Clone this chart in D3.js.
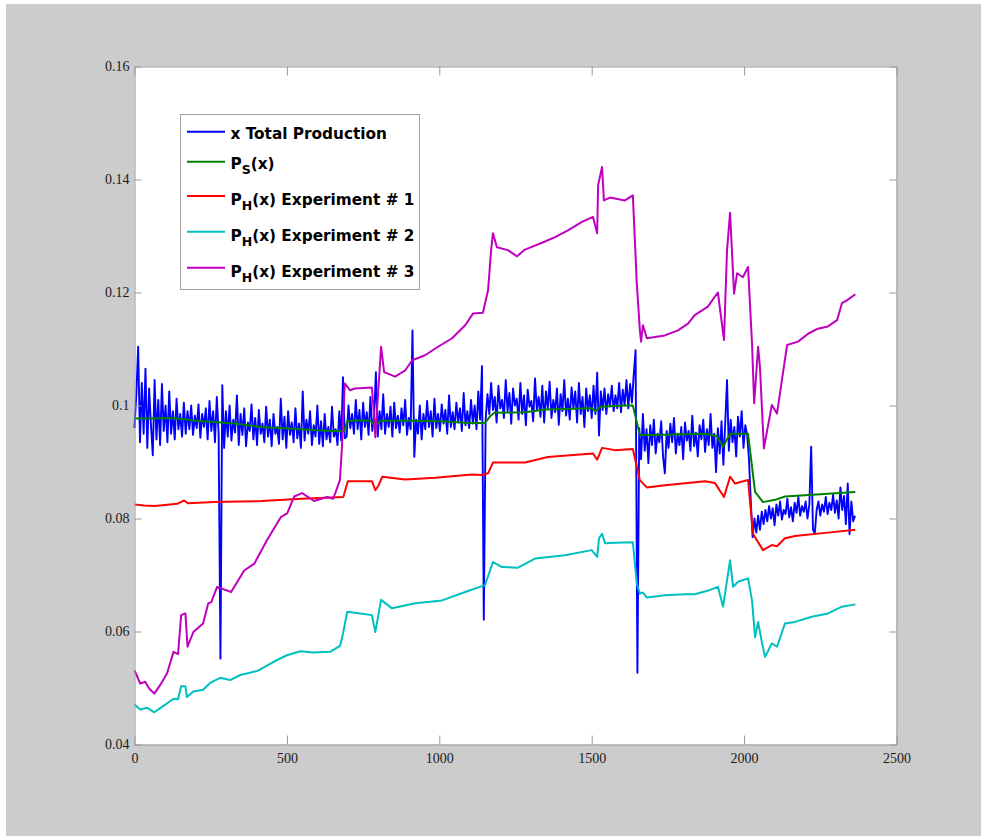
<!DOCTYPE html>
<html>
<head>
<meta charset="utf-8">
<script src="https://cdn.jsdelivr.net/npm/d3@7"></script>
<style>
  body { margin: 0; background: #fff; }
  #chart svg { display: block; }
</style>
</head>
<body>
<div id="chart"></div>
<script>
// x Total Production, one sample every blueStep units
const blueStep = 6
const totalProduction = [
  0.0960, 0.1020, 0.1104, 0.0935, 0.1040, 0.0950, 0.1065, 0.0925, 0.1030, 0.0965,
  0.0912, 0.1045, 0.0940, 0.1010, 0.0930, 0.1038, 0.0955, 0.1000, 0.0935, 0.1025,
  0.0950, 0.0990, 0.0940, 0.1012, 0.0958,
  0.0985, 0.0945, 0.1005, 0.0950, 0.0990, 0.0958, 0.1000, 0.0948, 0.0982, 0.0960,
  0.1002, 0.0943, 0.0985, 0.0962, 0.0995, 0.0940, 0.1008, 0.0955, 0.0990, 0.0935,
  0.1015, 0.0950,
  0.0552, 0.1036,
  0.0925, 0.0990, 0.0945, 0.1000, 0.0938, 0.0975, 0.0952, 0.1018, 0.0930, 0.0985,
  0.0948, 0.0995, 0.0928, 0.0970, 0.0955, 0.1002, 0.0940, 0.0978, 0.0930, 0.0992,
  0.0950, 0.0968, 0.0935, 0.0998, 0.0945, 0.0975, 0.0928, 0.0985, 0.0950, 0.0962,
  0.0932, 0.1012, 0.0940, 0.0980, 0.0925, 0.0990, 0.0948, 0.0970, 0.0935, 0.0995,
  0.0942, 0.0968, 0.0925, 0.1025, 0.0938, 0.0975, 0.0950, 0.0990, 0.0930, 0.0965,
  0.0945, 0.1000, 0.0932, 0.0972, 0.0928, 0.0985, 0.0940, 0.0962, 0.0935, 0.0998,
  0.0945, 0.0958, 0.0930, 0.0990, 0.0938, 0.1050, 0.0942,
  0.0945, 0.1000, 0.0960, 0.0985, 0.0950, 0.1010, 0.0958, 0.0992, 0.0940, 0.1005,
  0.0962, 0.0988, 0.0948, 0.1015, 0.0955, 0.0980,
  0.1059,
  0.0945, 0.0990, 0.0958, 0.1020, 0.0950, 0.0985, 0.0962, 0.0998, 0.0945, 0.1005,
  0.0960, 0.0982, 0.0952, 0.0995, 0.0965, 0.1010, 0.0948, 0.0978, 0.0958,
  0.1133, 0.0909,
  0.0975, 0.0950, 0.1000, 0.0940, 0.0985, 0.0958, 0.1008, 0.0962, 0.0990, 0.0945,
  0.1012, 0.0960, 0.0985, 0.0955, 0.1002, 0.0968, 0.0992, 0.0950, 0.1018, 0.0962,
  0.0988, 0.0958, 0.1005, 0.0970, 0.0995, 0.0955, 0.1022, 0.0965, 0.0990, 0.0960,
  0.1010, 0.0968, 0.1000, 0.0958, 0.1025, 0.0975,
  0.1070, 0.0621,
  0.0975, 0.1020, 0.0985, 0.1040, 0.0992, 0.1015, 0.0970, 0.1035, 0.0995, 0.1010,
  0.0978, 0.1045, 0.0990, 0.1022, 0.0968, 0.1030, 0.1000, 0.1012, 0.0975, 0.1040,
  0.0985, 0.1018, 0.0965, 0.1028, 0.0998, 0.1008, 0.0972, 0.1048, 0.0992, 0.1015,
  0.0980, 0.1035, 0.0970, 0.1025, 0.0995, 0.1042, 0.0978, 0.1010, 0.0988, 0.1030,
  0.0966, 0.1020, 0.0990, 0.1045, 0.0982, 0.1012, 0.0975, 0.1032, 0.0995, 0.1025,
  0.0970, 0.1040, 0.0985, 0.1015, 0.0962, 0.1030, 0.0990, 0.1018, 0.0978, 0.1035,
  0.0985,
  0.1058, 0.0947,
  0.1025, 0.0992, 0.1030, 0.0985, 0.1020, 0.0998, 0.1035, 0.0990, 0.1018, 0.0995,
  0.1040, 0.0988, 0.1028, 0.1000, 0.1045, 0.0995, 0.1038, 0.1005, 0.1055,
  0.1098, 0.0527,
  0.0960, 0.0905, 0.0985, 0.0920, 0.0958, 0.0898, 0.0965, 0.0930, 0.0975, 0.0915,
  0.0950, 0.0935, 0.0972, 0.0910, 0.0880, 0.0955, 0.0925, 0.0968, 0.0935, 0.0978,
  0.0915, 0.0950, 0.0930, 0.0962, 0.0905, 0.0970, 0.0938, 0.0955, 0.0920, 0.0982,
  0.0928, 0.0952, 0.0910, 0.0965, 0.0940, 0.0975, 0.0918, 0.0958, 0.0930, 0.0985,
  0.0925, 0.0950, 0.0882, 0.0960, 0.0915, 0.0972, 0.0895, 0.0968,
  0.1045,
  0.0920, 0.0975, 0.0935, 0.0962, 0.0910, 0.0980, 0.0945, 0.0990, 0.0925, 0.0965,
  0.0948, 0.0905,
  0.0830, 0.0767, 0.0800, 0.0775, 0.0805, 0.0780, 0.0812, 0.0790,
  0.0815, 0.0795, 0.0822, 0.0800, 0.0818, 0.0788, 0.0825, 0.0805, 0.0830, 0.0798,
  0.0815, 0.0808, 0.0835, 0.0802, 0.0820, 0.0795, 0.0828, 0.0810, 0.0838, 0.0805,
  0.0822, 0.0812, 0.0830, 0.0800, 0.0825,
  0.0927, 0.0780, 0.0774,
  0.0815, 0.0830, 0.0805, 0.0825, 0.0812, 0.0838, 0.0808, 0.0828, 0.0815, 0.0842,
  0.0810, 0.0832, 0.0800, 0.0855, 0.0815, 0.0840, 0.0790, 0.0862, 0.0772, 0.0830,
  0.0795, 0.0805
]

// P_S(x)
const psCurve = [
  [0,0.0977],[50,0.0977],[110,0.0978],[160,0.0976],[200,0.0973],[260,0.0971],[330,0.0968],
  [416,0.0962],[480,0.0960],[548,0.0958],[600,0.0956],[646,0.0955],[688,0.0955],[698,0.0972],
  [730,0.0974],[775,0.0973],[790,0.0963],[805,0.0973],[900,0.0973],[1000,0.0972],[1100,0.0969],
  [1150,0.0969],[1165,0.0980],[1180,0.0987],[1280,0.0988],[1350,0.0993],[1500,0.0995],
  [1512,0.0990],[1530,0.0998],[1600,0.1000],[1635,0.1000],[1658,0.0948],[1700,0.0948],
  [1800,0.0949],[1872,0.0950],[1910,0.0946],[1931,0.0927],[1954,0.0950],[2013,0.0950],
  [2036,0.0847],[2062,0.0829],[2102,0.0833],[2134,0.0839],[2250,0.0843],[2365,0.0847]
]

// P_H(x) Experiment # 1
const exp1Curve = [
  [0,0.0825],[30,0.0823],[65,0.0822],[100,0.0824],[140,0.0826],[163,0.0832],[175,0.0827],
  [262,0.0829],[350,0.0830],[416,0.0831],[548,0.0835],[646,0.0837],[685,0.0838],[700,0.0866],
  [779,0.0866],[790,0.0850],[800,0.0858],[813,0.0874],[888,0.0869],[986,0.0872],[1107,0.0878],
  [1140,0.0877],[1160,0.0880],[1176,0.0899],[1281,0.0899],[1356,0.0909],[1504,0.0915],
  [1518,0.0904],[1534,0.0925],[1576,0.0921],[1635,0.0923],[1658,0.0868],[1681,0.0855],
  [1740,0.0859],[1872,0.0866],[1904,0.0863],[1934,0.0838],[1954,0.0874],[1970,0.0862],
  [2013,0.0868],[2029,0.0773],[2062,0.0744],[2091,0.0753],[2108,0.0751],[2134,0.0765],
  [2167,0.0769],[2275,0.0775],[2365,0.0780]
]

// P_H(x) Experiment # 2
const exp2Curve = [
  [0,0.0471],[19,0.0462],[42,0.0465],[65,0.0457],[94,0.0468],[128,0.0481],[143,0.0480],
  [153,0.0503],[167,0.0503],[172,0.0484],[193,0.0494],[225,0.0497],[248,0.0509],[281,0.0518],
  [314,0.0514],[347,0.0523],[402,0.0530],[455,0.0546],[500,0.0558],[544,0.0565],[587,0.0563],
  [642,0.0564],[675,0.0575],[684,0.0596],[698,0.0635],[740,0.0632],[779,0.0629],[790,0.0599],
  [809,0.0656],[845,0.0641],[921,0.0650],[1009,0.0655],[1085,0.0670],[1150,0.0682],
  [1176,0.0723],[1206,0.0714],[1258,0.0713],[1314,0.0729],[1412,0.0735],[1500,0.0744],
  [1518,0.0732],[1524,0.0765],[1534,0.0773],[1544,0.0756],[1576,0.0757],[1635,0.0758],
  [1648,0.0685],[1658,0.0667],[1668,0.0669],[1681,0.0660],[1740,0.0664],[1806,0.0666],
  [1838,0.0666],[1880,0.0672],[1914,0.0679],[1931,0.0644],[1954,0.0726],[1964,0.0679],
  [1980,0.0688],[2013,0.0694],[2026,0.0655],[2036,0.0590],[2046,0.0617],[2059,0.0579],
  [2069,0.0555],[2091,0.0579],[2108,0.0573],[2134,0.0614],[2167,0.0617],[2222,0.0626],
  [2275,0.0632],[2321,0.0644],[2365,0.0648]
]

// P_H(x) Experiment # 3
const exp3Curve = [
  [0,0.0531],[19,0.0508],[35,0.0511],[48,0.0499],[65,0.0490],[84,0.0505],[107,0.0526],
  [128,0.0564],[143,0.0560],[153,0.0629],[167,0.0632],[174,0.0573],[193,0.0599],[225,0.0614],
  [242,0.0650],[252,0.0652],[271,0.0679],[317,0.0670],[360,0.0708],[393,0.0720],[435,0.0762],
  [481,0.0803],[501,0.0809],[524,0.0839],[550,0.0845],[589,0.0831],[632,0.0838],[652,0.0835],
  [674,0.0868],[680,0.0921],[690,0.1039],[707,0.1027],[723,0.1030],[779,0.1032],[786,0.0980],
  [790,0.0944],[809,0.1104],[819,0.1059],[855,0.1051],[888,0.1062],[911,0.1080],[953,0.1089],
  [996,0.1104],[1042,0.1119],[1085,0.1142],[1111,0.1163],[1143,0.1164],[1160,0.1204],
  [1170,0.1275],[1176,0.1305],[1189,0.1280],[1225,0.1275],[1255,0.1264],[1281,0.1276],
  [1337,0.1288],[1380,0.1298],[1422,0.1310],[1468,0.1325],[1504,0.1334],[1518,0.1305],
  [1521,0.1390],[1534,0.1422],[1540,0.1363],[1560,0.1368],[1609,0.1363],[1635,0.1372],
  [1648,0.1216],[1658,0.1133],[1662,0.1113],[1668,0.1142],[1681,0.1119],[1740,0.1124],
  [1783,0.1133],[1816,0.1145],[1838,0.1160],[1881,0.1175],[1914,0.1200],[1934,0.1116],
  [1944,0.1275],[1954,0.1341],[1967,0.1198],[1977,0.1234],[1996,0.1227],[2013,0.1245],
  [2026,0.1110],[2033,0.1004],[2046,0.1104],[2052,0.1068],[2065,0.0924],[2091,0.1001],
  [2108,0.0986],[2141,0.1107],[2177,0.1113],[2210,0.1127],[2242,0.1136],[2275,0.1140],
  [2305,0.1151],[2321,0.1181],[2337,0.1186],[2365,0.1197]
]

const xTicks = [0, 500, 1000, 1500, 2000, 2500]
const yTicks = [0.04, 0.06, 0.08, 0.1, 0.12, 0.14, 0.16]

const legendItems = [
  { main: "x Total Production", sub: "", rest: "", color: "#0000ff" },
  { main: "P", sub: "S", rest: "(x)", color: "#008000" },
  { main: "P", sub: "H", rest: "(x) Experiment # 1", color: "#ff0000" },
  { main: "P", sub: "H", rest: "(x) Experiment # 2", color: "#00bfbf" },
  { main: "P", sub: "H", rest: "(x) Experiment # 3", color: "#bf00bf" }
]

let width = 981
let height = 836
let margin = { top: 66.5, right: 84.5, bottom: 91.5, left: 134.5 }

var svg = d3.select("#chart")
    .append("svg")
    .attr("width", width)
    .attr("height", height)

// figure background
svg.append("rect")
    .attr("x", 6).attr("y", 4)
    .attr("width", width - 6).attr("height", height - 4)
    .attr("fill", "#cccccc")

var x = d3.scaleLinear().domain([0, 2500]).range([margin.left, width - margin.right])
var y = d3.scaleLinear().domain([0.04, 0.16]).range([height - margin.bottom, margin.top])

svg.append("rect")
    .attr("x", x(0)).attr("y", y(0.16))
    .attr("width", x(2500) - x(0)).attr("height", y(0.04) - y(0.16))
    .attr("fill", "#ffffff")

var line = d3.line()
    .x(d => x(d[0]))
    .y(d => y(d[1]))

var plot = svg.append("g")

plot.append("path")
    .datum(totalProduction.map((v, i) => [i * blueStep, v]))
    .attr("d", line)
    .attr("fill", "none")
    .attr("stroke", legendItems[0].color)
    .attr("stroke-width", 1.9)
    .attr("stroke-linejoin", "round")

const curves = [psCurve, exp1Curve, exp2Curve, exp3Curve]
curves.forEach((c, i) => {
    plot.append("path")
        .datum(c)
        .attr("d", line)
        .attr("fill", "none")
        .attr("stroke", legendItems[i + 1].color)
        .attr("stroke-width", 2)
        .attr("stroke-linejoin", "round")
})

// axes, ticks inside on all four sides
var axisColor = "#999999"
function styleAxis(g) {
    g.select(".domain").attr("stroke", axisColor)
    g.selectAll(".tick line").attr("stroke", axisColor)
    g.selectAll(".tick text")
        .attr("fill", "#1a1a1a")
        .style("font-family", "'Liberation Serif', 'Times New Roman', serif")
        .style("font-size", "14px")
}

svg.append("g")
    .attr("transform", "translate(0," + y(0.04) + ")")
    .call(d3.axisBottom(x).tickValues(xTicks).tickSizeInner(-9).tickSizeOuter(0).tickPadding(9)
        .tickFormat(d3.format("d")))
    .call(styleAxis)

svg.append("g")
    .attr("transform", "translate(0," + y(0.16) + ")")
    .call(d3.axisTop(x).tickValues(xTicks).tickSizeInner(-9).tickSizeOuter(0).tickFormat(""))
    .call(styleAxis)

svg.append("g")
    .attr("transform", "translate(" + x(0) + ",0)")
    .call(d3.axisLeft(y).tickValues(yTicks).tickSizeInner(-7).tickSizeOuter(0).tickPadding(5)
        .tickFormat(d => String(+d.toFixed(2))))
    .call(styleAxis)

svg.append("g")
    .attr("transform", "translate(" + x(2500) + ",0)")
    .call(d3.axisRight(y).tickValues(yTicks).tickSizeInner(-7).tickSizeOuter(0).tickFormat(""))
    .call(styleAxis)

// legend
var legend = svg.append("g")
legend.append("rect")
    .attr("x", 180.5).attr("y", 114.5)
    .attr("width", 239).attr("height", 175)
    .attr("fill", "#ffffff")
    .attr("stroke", "#a0a0a0")

const rowLine = [131.7, 161.7, 196, 231.7, 267.7]
const rowBase = [139, 169, 205, 240.5, 276.5]

legendItems.forEach((d, i) => {
    legend.append("line")
        .attr("x1", 187).attr("x2", 225)
        .attr("y1", rowLine[i]).attr("y2", rowLine[i])
        .attr("stroke", d.color)
        .attr("stroke-width", 2)
    var t = legend.append("text")
        .attr("x", 230.5).attr("y", rowBase[i])
        .attr("fill", "#000")
        .style("font-family", "'DejaVu Sans', Verdana, sans-serif")
        .style("font-weight", "bold")
        .style("font-size", "15.3px")
    t.append("tspan").text(d.main)
    if (d.sub) {
        t.append("tspan").attr("dy", 5).style("font-size", "12.5px").text(d.sub)
        t.append("tspan").attr("dy", -5).text(d.rest)
    }
})
</script>
</body>
</html>
